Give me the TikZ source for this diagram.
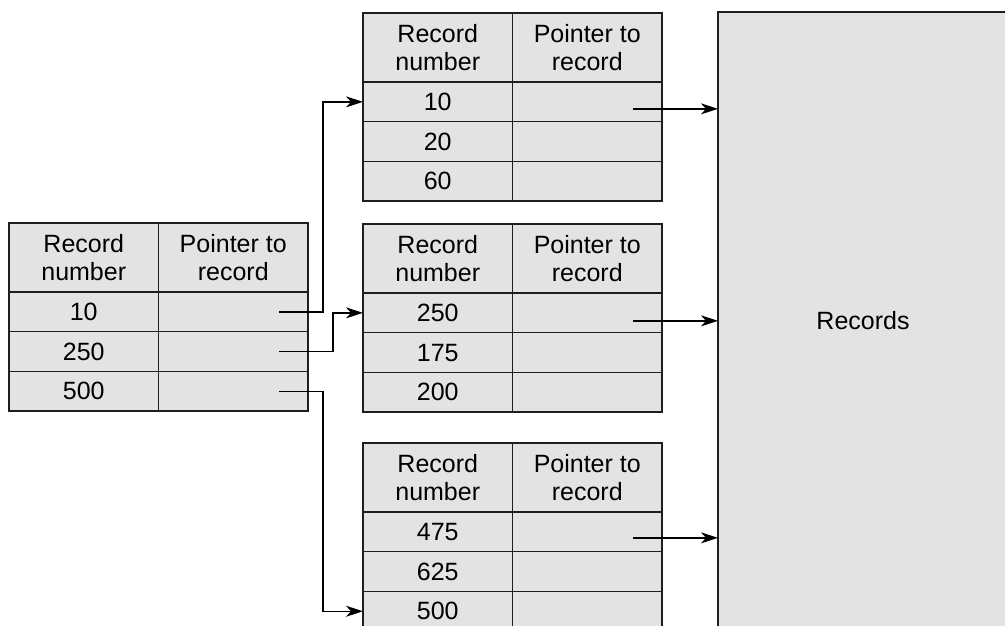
\documentclass[tikz,border=0pt]{standalone}
\usepackage{fontspec}
\setmainfont{Liberation Sans}
\usetikzlibrary{arrows.meta,calc}
\definecolor{cellgray}{RGB}{227,227,227}
\definecolor{edge}{RGB}{30,30,30}
\tikzset{
  tcell/.style={draw=edge, fill=cellgray, line width=1.4pt, inner sep=0pt, outer sep=0pt,
    minimum width=149.5pt, minimum height=39.7pt, anchor=north west,
    font=\fontsize{25}{28}\selectfont},
  thdr/.style={tcell, minimum height=69pt, align=center},
  arr/.style={line width=1.4pt, -{Stealth[length=17pt,width=11pt,inset=5pt]}},
}
\newcommand{\idxtab}[6]{%
  \node[thdr] (#1-h1) at (#2,#3) {Record\\number};
  \node[thdr] (#1-h2) at (#1-h1.north east) {Pointer to\\record};
  \node[tcell] (#1-a1) at (#1-h1.south west) {#4};
  \node[tcell] (#1-b1) at (#1-a1.north east) {};
  \node[tcell] (#1-a2) at (#1-a1.south west) {#5};
  \node[tcell] (#1-b2) at (#1-a2.north east) {};
  \node[tcell] (#1-a3) at (#1-a2.south west) {#6};
  \node[tcell] (#1-b3) at (#1-a3.north east) {};
}
\begin{document}
\begin{tikzpicture}[x=1pt,y=-1pt]
\useasboundingbox (0,0) rectangle (1005,626);
\clip (0,0) rectangle (1005,626);
% tables
\idxtab{L}{9}{223}{10}{250}{500}
\idxtab{T}{363}{13}{10}{20}{60}
\idxtab{M}{363}{224}{250}{175}{200}
\idxtab{B}{363}{443}{475}{625}{500}
% records block
\node[draw=edge, fill=cellgray, line width=1.4pt, inner sep=0pt, outer sep=0pt,
  minimum width=290pt, minimum height=618pt, anchor=north west,
  font=\fontsize{25}{28}\selectfont] (R) at (718,12) {Records};
% connectors from the master index
\path ([xshift=-29pt]L-b1.east) coordinate (l1);
\path ([xshift=-29pt]L-b2.east) coordinate (l2);
\path ([xshift=-29pt]L-b3.east) coordinate (l3);
\draw[arr] (l1) -- ++(44,0) |- (T-a1.west);
\draw[arr] (l2) -- ++(54,0) |- (M-a1.west);
\draw[arr] (l3) -- ++(44,0) |- (B-a3.west);
% connectors to the records
\path ([xshift=-29pt,yshift=-7pt]T-b1.east) coordinate (t1);
\path ([xshift=-29pt,yshift=-8pt]M-b1.east) coordinate (m1);
\path ([xshift=-29pt,yshift=-6pt]B-b1.east) coordinate (b1);
\draw[arr] (t1) -- (t1 -| R.west);
\draw[arr] (m1) -- (m1 -| R.west);
\draw[arr] (b1) -- (b1 -| R.west);
\end{tikzpicture}
\end{document}
